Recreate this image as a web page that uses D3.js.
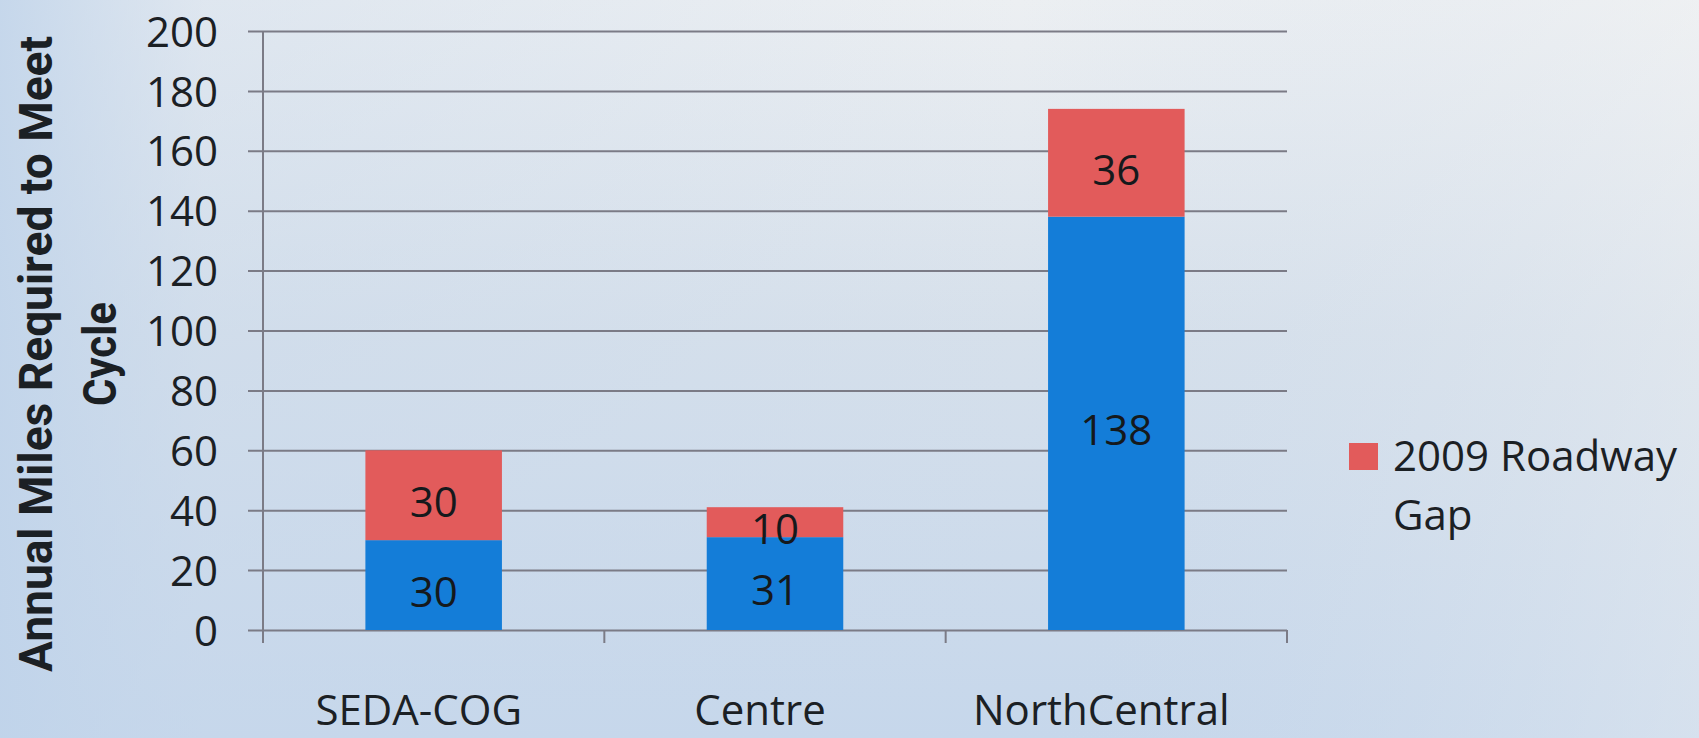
<!DOCTYPE html>
<meta charset="utf-8">
<head>
<title>Annual Miles Required to Meet Cycle</title>
<script src="https://d3js.org/d3.v7.min.js"></script>
<style>
  body { margin: 0; overflow: hidden; }
  svg { display: block; }
</style>
</head>

<div id="chart"></div>

<script>
  // data
  var regions = ["SEDA-COG", "Centre", "NorthCentral"];
  var baseMiles = [30, 31, 138];
  var gapMiles = [30, 10, 36];
  var yTicks = [0, 20, 40, 60, 80, 100, 120, 140, 160, 180, 200];
  var legendLabel = ["2009 Roadway", "Gap"];

  var W = 1699, H = 738;
  var margin = {top: 31, right: 412, bottom: 108, left: 263},
    width = W - margin.left - margin.right,
    height = H - margin.top - margin.bottom;

  var blue = "#147dd8", red = "#e25b5b", grid = "#7b7b86", ink = "#1b2024";
  var font = "'Open Sans', sans-serif";

  var root = d3.select("#chart").append("svg")
    .attr("width", W)
    .attr("height", H);

  // background: light at top, bluer at bottom and on the left
  var defs = root.append("defs");
  var g1 = defs.append("linearGradient")
    .attr("id", "bgv")
    .attr("x1", "0%").attr("y1", "0%")
    .attr("x2", "0%").attr("y2", "100%");
  g1.append("stop").attr("offset", "0%").attr("stop-color", "#eceff2");
  g1.append("stop").attr("offset", "45%").attr("stop-color", "#d6e0eb");
  g1.append("stop").attr("offset", "100%").attr("stop-color", "#c6d7eb");
  var g2 = defs.append("linearGradient")
    .attr("id", "bgh")
    .attr("x1", "0%").attr("y1", "0%")
    .attr("x2", "100%").attr("y2", "0%");
  g2.append("stop").attr("offset", "0%").attr("stop-color", "#bfd3ea").attr("stop-opacity", 0.85);
  g2.append("stop").attr("offset", "12%").attr("stop-color", "#c6d7eb").attr("stop-opacity", 0.35);
  g2.append("stop").attr("offset", "60%").attr("stop-color", "#c6d7eb").attr("stop-opacity", 0);
  g2.append("stop").attr("offset", "100%").attr("stop-color", "#f3f3f3").attr("stop-opacity", 0.35);
  root.append("rect").attr("width", W).attr("height", H).attr("fill", "url(#bgv)");
  root.append("rect").attr("width", W).attr("height", H).attr("fill", "url(#bgh)");

  var svg = root.append("g")
    .attr("transform", "translate(" + margin.left + "," + margin.top + ")");

  // scales
  var x = d3.scaleBand()
    .domain(regions)
    .range([0, width])
    .paddingInner(0.6)
    .paddingOuter(0.3);

  var y = d3.scaleLinear()
    .domain([0, 200])
    .range([height, 0]);

  // gridlines + y axis
  var yAxis = svg.append("g")
    .call(d3.axisLeft(y).tickValues(yTicks).tickSize(-width).tickPadding(45).tickSizeOuter(0));
  yAxis.select(".domain").remove();
  yAxis.selectAll(".tick line")
    .attr("x1", -15)
    .attr("stroke", grid)
    .attr("stroke-width", 2);
  yAxis.selectAll(".tick text")
    .attr("dy", "0.36em")
    .style("font-family", font)
    .style("font-size", "42px")
    .attr("fill", ink);

  svg.append("line")
    .attr("x1", 0).attr("x2", 0)
    .attr("y1", 0).attr("y2", height + 13)
    .attr("stroke", grid)
    .attr("stroke-width", 2);

  // x axis, ticks between categories
  var xBounds = [0].concat(regions.map(function(d) { return x(d) + x.step() * 0.7; }));
  svg.selectAll(".xtick")
    .data(xBounds)
    .enter().append("line")
      .attr("x1", function(d) { return d; })
      .attr("x2", function(d) { return d; })
      .attr("y1", height)
      .attr("y2", height + 13)
      .attr("stroke", grid)
      .attr("stroke-width", 2);

  svg.selectAll(".xlabel")
    .data(regions)
    .enter().append("text")
      .attr("x", function(d) { return x(d) + x.bandwidth() / 2 - 15; })
      .attr("y", height + 95)
      .attr("text-anchor", "middle")
      .style("font-family", font)
      .style("font-size", "42px")
      .attr("fill", ink)
      .text(function(d) { return d; });

  // stacked bars
  var rows = regions.map(function(r, i) {
    return {region: r, base: baseMiles[i], gap: gapMiles[i]};
  });
  var stack = d3.stack().keys(["base", "gap"])(rows);
  var colors = {base: blue, gap: red};

  var layer = svg.selectAll(".layer")
    .data(stack)
    .enter().append("g")
      .attr("fill", function(d) { return colors[d.key]; });

  layer.selectAll("rect")
    .data(function(d) { return d; })
    .enter().append("rect")
      .attr("x", function(d) { return x(d.data.region); })
      .attr("y", function(d) { return y(d[1]); })
      .attr("width", x.bandwidth())
      .attr("height", function(d) { return y(d[0]) - y(d[1]); });

  // value labels, centred in each segment
  layer.selectAll("text")
    .data(function(d) { return d; })
    .enter().append("text")
      .attr("x", function(d) { return x(d.data.region) + x.bandwidth() / 2; })
      .attr("y", function(d) { return y((d[0] + d[1]) / 2); })
      .attr("dy", "0.52em")
      .attr("text-anchor", "middle")
      .style("font-family", font)
      .style("font-size", "42px")
      .attr("fill", "#15191c")
      .text(function(d) { return d[1] - d[0]; });

  // y axis title
  var title = root.append("g")
    .attr("transform", "translate(52,354) rotate(-90)");
  title.append("text")
    .attr("text-anchor", "middle")
    .attr("textLength", 636)
    .attr("lengthAdjust", "spacingAndGlyphs")
    .style("font-family", "Roboto, sans-serif")
    .style("font-weight", "bold")
    .style("font-size", "46px")
    .attr("fill", ink)
    .text("Annual Miles Required to Meet");
  title.append("text")
    .attr("y", 64)
    .attr("text-anchor", "middle")
    .attr("textLength", 104)
    .attr("lengthAdjust", "spacingAndGlyphs")
    .style("font-family", "Roboto, sans-serif")
    .style("font-weight", "bold")
    .style("font-size", "46px")
    .attr("fill", ink)
    .text("Cycle");

  // legend
  var legend = root.append("g")
    .attr("transform", "translate(1349,443)");
  legend.append("rect")
    .attr("width", 29)
    .attr("height", 27)
    .attr("fill", red);
  legend.selectAll("text")
    .data(legendLabel)
    .enter().append("text")
      .attr("x", 44)
      .attr("y", function(d, i) { return 28 + i * 59; })
      .style("font-family", font)
      .style("font-size", "42px")
      .attr("fill", ink)
      .text(function(d) { return d; });
</script>
